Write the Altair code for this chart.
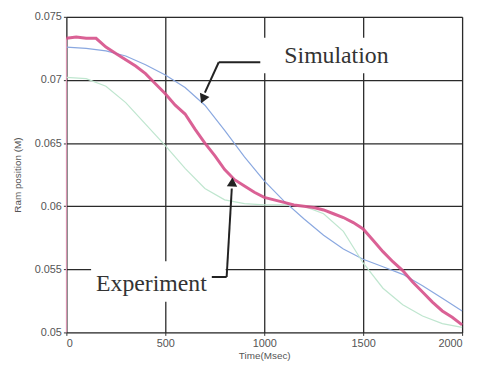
import altair as alt
import pandas as pd

# ---- data ----
exp_t = [0, 50, 100, 150, 200, 250, 300, 350, 400, 450, 500, 550, 600, 650, 700, 750,
         800, 850, 900, 950, 1000, 1050, 1100, 1150, 1200, 1250, 1300, 1350, 1400, 1450,
         1500, 1550, 1600, 1650, 1700, 1750, 1800, 1850, 1900, 1950, 2000]
exp_v = [0.0733, 0.0734, 0.0733, 0.0733, 0.0726, 0.0721, 0.0716, 0.0711, 0.0705, 0.0697,
         0.0689, 0.0680, 0.0673, 0.0661, 0.0650, 0.0640, 0.0629, 0.0621, 0.0616, 0.0611,
         0.0607, 0.0605, 0.0603, 0.0601, 0.0600, 0.0599, 0.0597, 0.0594, 0.0591, 0.0587,
         0.0582, 0.0573, 0.0564, 0.0556, 0.0549, 0.0540, 0.0532, 0.0524, 0.0517, 0.0512,
         0.0506]

sim_t = [0, 100, 200, 300, 400, 500, 600, 700, 800, 900, 1000, 1100, 1200, 1300, 1400,
         1500, 1600, 1700, 1800, 1900, 2000]
sim1_v = [0.0726, 0.0725, 0.0723, 0.0719, 0.0712, 0.0704, 0.0694, 0.0680, 0.0660, 0.0639,
          0.0620, 0.0604, 0.0590, 0.0577, 0.0566, 0.0558, 0.0552, 0.0546, 0.0537, 0.0527,
          0.0517]
sim2_v = [0.0702, 0.0701, 0.0695, 0.0682, 0.0665, 0.0648, 0.0630, 0.0614, 0.0605, 0.0602,
          0.0601, 0.0601, 0.0600, 0.0594, 0.0580, 0.0555, 0.0535, 0.0522, 0.0513, 0.0507,
          0.0504]

x_ticks = [0, 500, 1000, 1500, 2000]
y_ticks = [0.05, 0.055, 0.06, 0.065, 0.07, 0.075]

labels = ["Simulation", "Experiment"]
label_t = [1365, 430]
label_v = [0.07186, 0.05384]
# white boxes behind the labels
box_t1 = [985, 125]
box_t2 = [1665, 805]
box_v1 = [0.07053, 0.05243]
box_v2 = [0.07335, 0.05564]
# arrow segments (t1, v1, t2, v2)
seg_t1 = [980, 770, 735, 810]
seg_v1 = [0.07140, 0.07140, 0.05439, 0.05439]
seg_t2 = [770, 700, 810, 836]
seg_v2 = [0.07140, 0.06900, 0.05439, 0.06140]
head_t = [693, 838]
head_v = [0.06860, 0.06180]
head_angle = [203, 3]

# ---- tables ----
exp_df = pd.DataFrame({"t": exp_t, "v": exp_v})
sim_df = pd.concat([
    pd.DataFrame({"t": sim_t, "v": sim1_v, "s": "Simulation A"}),
    pd.DataFrame({"t": sim_t, "v": sim2_v, "s": "Simulation B"}),
])
lab_df = pd.DataFrame({"label": labels, "t": label_t, "v": label_v})
box_df = pd.DataFrame({"t1": box_t1, "t2": box_t2, "v1": box_v1, "v2": box_v2})
seg_df = pd.DataFrame({"t1": seg_t1, "v1": seg_v1, "t2": seg_t2, "v2": seg_v2})
head_df = pd.DataFrame({"t": head_t, "v": head_v, "a": head_angle})
start_df = pd.DataFrame({"t": [0], "v1": [0.05], "v2": [exp_v[0]]})

xs = alt.Scale(domain=[0, 2000], nice=False, zero=False)
ys = alt.Scale(domain=[0.05, 0.075], nice=False, zero=False)

x_axis = alt.Axis(values=x_ticks, format="d", title="Time(Msec)", grid=True,
                  gridColor="#2a2a2a", gridWidth=1.3, gridOpacity=1,
                  labelFont="Liberation Sans", labelFontSize=11, labelColor="#555",
                  titleFont="Liberation Sans", titleFontSize=10, titleColor="#555",
                  titleFontWeight="normal", tickSize=3, tickColor="#333",
                  labelPadding=2, titlePadding=2, domain=False)
y_axis = alt.Axis(values=y_ticks, format="~g", title="Ram position (M)", grid=True,
                  gridColor="#2a2a2a", gridWidth=1.3, gridOpacity=1,
                  labelFont="Liberation Sans", labelFontSize=11, labelColor="#555",
                  titleFont="Liberation Sans", titleFontSize=10, titleColor="#555",
                  titleFontWeight="normal", tickSize=3, tickColor="#333",
                  labelPadding=2, titlePadding=12, domain=False)

X = alt.X("t:Q", scale=xs, axis=x_axis)
Y = alt.Y("v:Q", scale=ys, axis=y_axis)

boxes = alt.Chart(box_df).mark_rect(color="white").encode(
    x=alt.X("t1:Q", scale=xs, axis=x_axis), x2="t2:Q",
    y=alt.Y("v1:Q", scale=ys, axis=y_axis), y2="v2:Q")

sims = alt.Chart(sim_df).mark_line(strokeWidth=1.2).encode(
    x=X, y=Y,
    color=alt.Color("s:N", scale=alt.Scale(domain=["Simulation A", "Simulation B"],
                                          range=["#8aa8e0", "#bfe6cf"]), legend=None))

start = alt.Chart(start_df).mark_rule(color="#f0a0c0", strokeWidth=1).encode(
    x=alt.X("t:Q", scale=xs), y=alt.Y("v1:Q", scale=ys), y2="v2:Q")

exp = alt.Chart(exp_df).mark_line(color="#d6508a", strokeWidth=3, opacity=0.9).encode(
    x=X, y=Y)

segs = alt.Chart(seg_df).mark_rule(color="#222", strokeWidth=2).encode(
    x=alt.X("t1:Q", scale=xs), x2="t2:Q", y=alt.Y("v1:Q", scale=ys), y2="v2:Q")

heads = alt.Chart(head_df).mark_point(shape="triangle", filled=True, color="#222",
                                      size=110, opacity=1).encode(
    x=alt.X("t:Q", scale=xs), y=alt.Y("v:Q", scale=ys),
    angle=alt.Angle("a:Q", scale=None))

texts = alt.Chart(lab_df).mark_text(font="Liberation Serif", fontSize=24, color="#333",
                                    baseline="middle", align="center").encode(
    x=alt.X("t:Q", scale=xs), y=alt.Y("v:Q", scale=ys), text="label:N")

chart = alt.layer(boxes, sims, start, exp, segs, heads, texts).properties(
    width=400, height=319,
    autosize=alt.AutoSizeParams(type="none"),
    padding={"left": 59, "top": 7, "right": 10, "bottom": 30},
).configure_view(stroke="#222", strokeWidth=1.5).configure(background="white")

chart.save("out.html", embed_options={"renderer": "svg", "actions": False})
